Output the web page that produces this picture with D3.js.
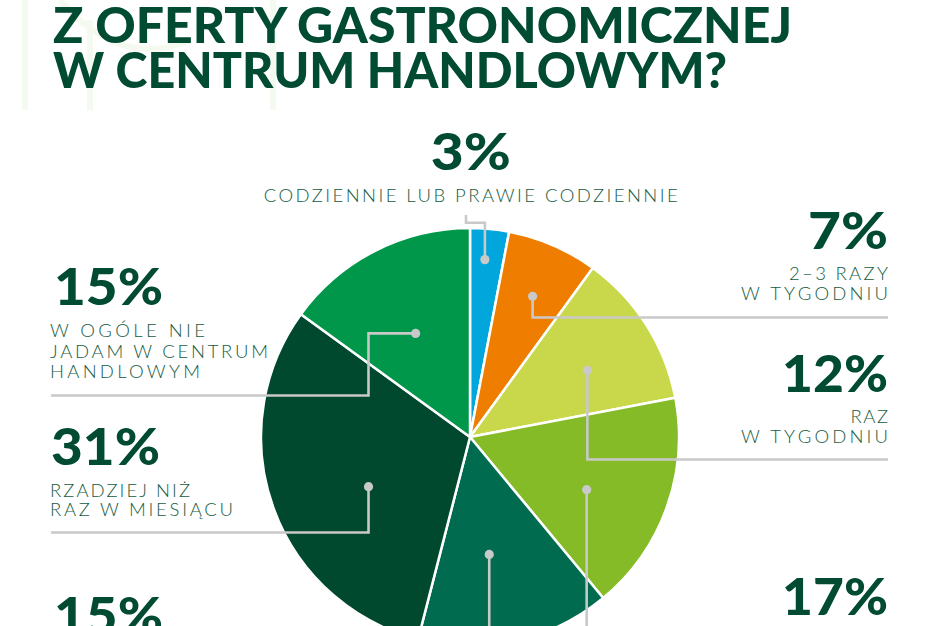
<!DOCTYPE html>
<html>
<head>
<meta charset="utf-8">
<script src="https://cdn.jsdelivr.net/npm/d3@7"></script>
<style>
  html, body { margin: 0; padding: 0; background: #ffffff; }
  svg { display: block; }
</style>
</head>
<body>
<svg id="chart" width="940" height="626"></svg>
<script>
// ---------------- DATA ----------------
const titleLines = ["Z OFERTY GASTRONOMICZNEJ", "W CENTRUM HANDLOWYM?"];
const values = [3, 7, 12, 17, 15, 31, 15];
const percentLabels = ["3%", "7%", "12%", "17%", "15%", "31%", "15%"];
const labelLines = [
  ["CODZIENNIE LUB PRAWIE CODZIENNIE"],
  ["2–3 RAZY", "W TYGODNIU"],
  ["RAZ", "W TYGODNIU"],
  [],
  [],
  ["RZADZIEJ NIŻ", "RAZ W MIESIĄCU"],
  ["W OGÓLE NIE", "JADAM W CENTRUM", "HANDLOWYM"]
];
const sliceColors = ["#00a6dc", "#ee7d00", "#c9d84b", "#84bb27", "#006b4f", "#00492f", "#00974a"];

// ---------------- LAYOUT ----------------
const W = 940, H = 626;
const cx = 470, cy = 437, R = 209;
const darkGreen = "#004b31";
const labelColor = "#155c3e";
const leaderColor = "#c9c9c9";

const svg = d3.select("#chart");

// very faint background watermark
const wm = svg.append("g").attr("fill", "none").attr("stroke", "#f5faf1").attr("stroke-width", 6);
wm.append("line").attr("x1", 25).attr("y1", 0).attr("x2", 25).attr("y2", 110);
wm.append("line").attr("x1", 90).attr("y1", 20).attr("x2", 90).attr("y2", 110);
wm.append("line").attr("x1", 273).attr("y1", 0).attr("x2", 273).attr("y2", 110);
wm.append("path").attr("d", "M60,0 Q120,70 190,40");

// title
const titleG = svg.append("g")
  .attr("font-family", "Lato, 'DejaVu Sans', sans-serif")
  .attr("font-weight", 900)
  .attr("fill", darkGreen);
const titleSpec = [{x: 53, y: 43, w: 739}, {x: 53, y: 88, w: 674}];
titleLines.forEach((t, i) => {
  titleG.append("text")
    .attr("x", titleSpec[i].x).attr("y", titleSpec[i].y)
    .attr("font-size", 49)
    .attr("textLength", titleSpec[i].w)
    .attr("lengthAdjust", "spacingAndGlyphs")
    .text(t);
});

// pie
const pie = d3.pie().sort(null).value(d => d);
const arcs = pie(values);
const arc = d3.arc().innerRadius(0).outerRadius(R);
const pieG = svg.append("g").attr("transform", `translate(${cx},${cy})`);
pieG.selectAll("path.slice")
  .data(arcs)
  .join("path")
  .attr("class", "slice")
  .attr("d", arc)
  .attr("fill", (d, i) => sliceColors[i])
  .attr("stroke", "#ffffff")
  .attr("stroke-width", 2.5)
  .attr("stroke-linejoin", "round");

// leader dots: radius & angle offset (deg) relative to slice mid angle
const dotSpec = [
  {r: 178, da: -0.6}, {r: 154, da: 0.6}, {r: 135, da: 2.8}, {r: 128, da: 4.5},
  {r: 119, da: 3.3}, {r: 113, da: -6.3}, {r: 117, da: -0.7}
];
const dots = arcs.map((d, i) => {
  const a = (d.startAngle + d.endAngle) / 2 + dotSpec[i].da * Math.PI / 180;
  return [cx + dotSpec[i].r * Math.sin(a), cy - dotSpec[i].r * Math.cos(a)];
});

// leader routes (sequence of axis-aligned moves from the dot)
const routes = [
  [{y: 222.7}, {x: 466}, {y: 215}],
  [{y: 317.5}, {x: 888}],
  [{y: 459.5}, {x: 888}],
  [{y: 640}],
  [{y: 640}],
  [{y: 532.5}, {x: 51}],
  [{x: 368.5}, {y: 395.5}, {x: 51}]
];
const lineGen = d3.line();
const leadG = svg.append("g");
routes.forEach((route, i) => {
  const pts = [dots[i].slice()];
  route.forEach(step => {
    const last = pts[pts.length - 1];
    pts.push([step.x !== undefined ? step.x : last[0], step.y !== undefined ? step.y : last[1]]);
  });
  leadG.append("path")
    .attr("d", lineGen(pts))
    .attr("fill", "none")
    .attr("stroke", leaderColor)
    .attr("stroke-width", 2.6)
    .attr("stroke-linejoin", "miter");
});
leadG.selectAll("circle")
  .data(dots)
  .join("circle")
  .attr("cx", d => d[0]).attr("cy", d => d[1])
  .attr("r", 4.6)
  .attr("fill", leaderColor);

// labels
const labelSpec = [
  {x: 470.7, anchor: "middle", py: 170, pw: 80, ly: [201.5], lw: [414]},
  {x: 888, anchor: "end", py: 248.5, pw: 80, ly: [280, 300], lw: [99, 147]},
  {x: 888, anchor: "end", py: 392, pw: 106, ly: [423, 443], lw: [37.5, 147]},
  {x: 888, anchor: "end", py: 615, pw: 106, ly: [], lw: []},
  {x: 54, anchor: "start", py: 634, pw: 109, ly: [], lw: []},
  {x: 51, anchor: "start", py: 465, pw: 109, ly: [496.5, 516], lw: [140, 183]},
  {x: 54, anchor: "start", py: 305, pw: 109, ly: [337, 357.5, 377.5], lw: [155, 218, 150]}
];
const labG = svg.append("g");
percentLabels.forEach((p, i) => {
  const s = labelSpec[i];
  labG.append("text")
    .attr("x", s.x).attr("y", s.py)
    .attr("text-anchor", s.anchor)
    .attr("font-family", "Lato, 'DejaVu Sans', sans-serif")
    .attr("font-weight", 900)
    .attr("font-size", 52)
    .attr("fill", darkGreen)
    .attr("textLength", s.pw)
    .attr("lengthAdjust", "spacingAndGlyphs")
    .text(p);
  labelLines[i].forEach((t, j) => {
    labG.append("text")
      .attr("x", i >= 5 ? 50 : s.x).attr("y", s.ly[j])
      .attr("text-anchor", s.anchor)
      .attr("font-family", "Lato, 'DejaVu Sans', sans-serif")
      .attr("font-weight", 300)
      .attr("font-size", 18.5)
      .attr("fill", labelColor)
      .attr("textLength", s.lw[j])
      .attr("lengthAdjust", "spacing")
      .text(t);
  });
});
</script>
</body>
</html>
